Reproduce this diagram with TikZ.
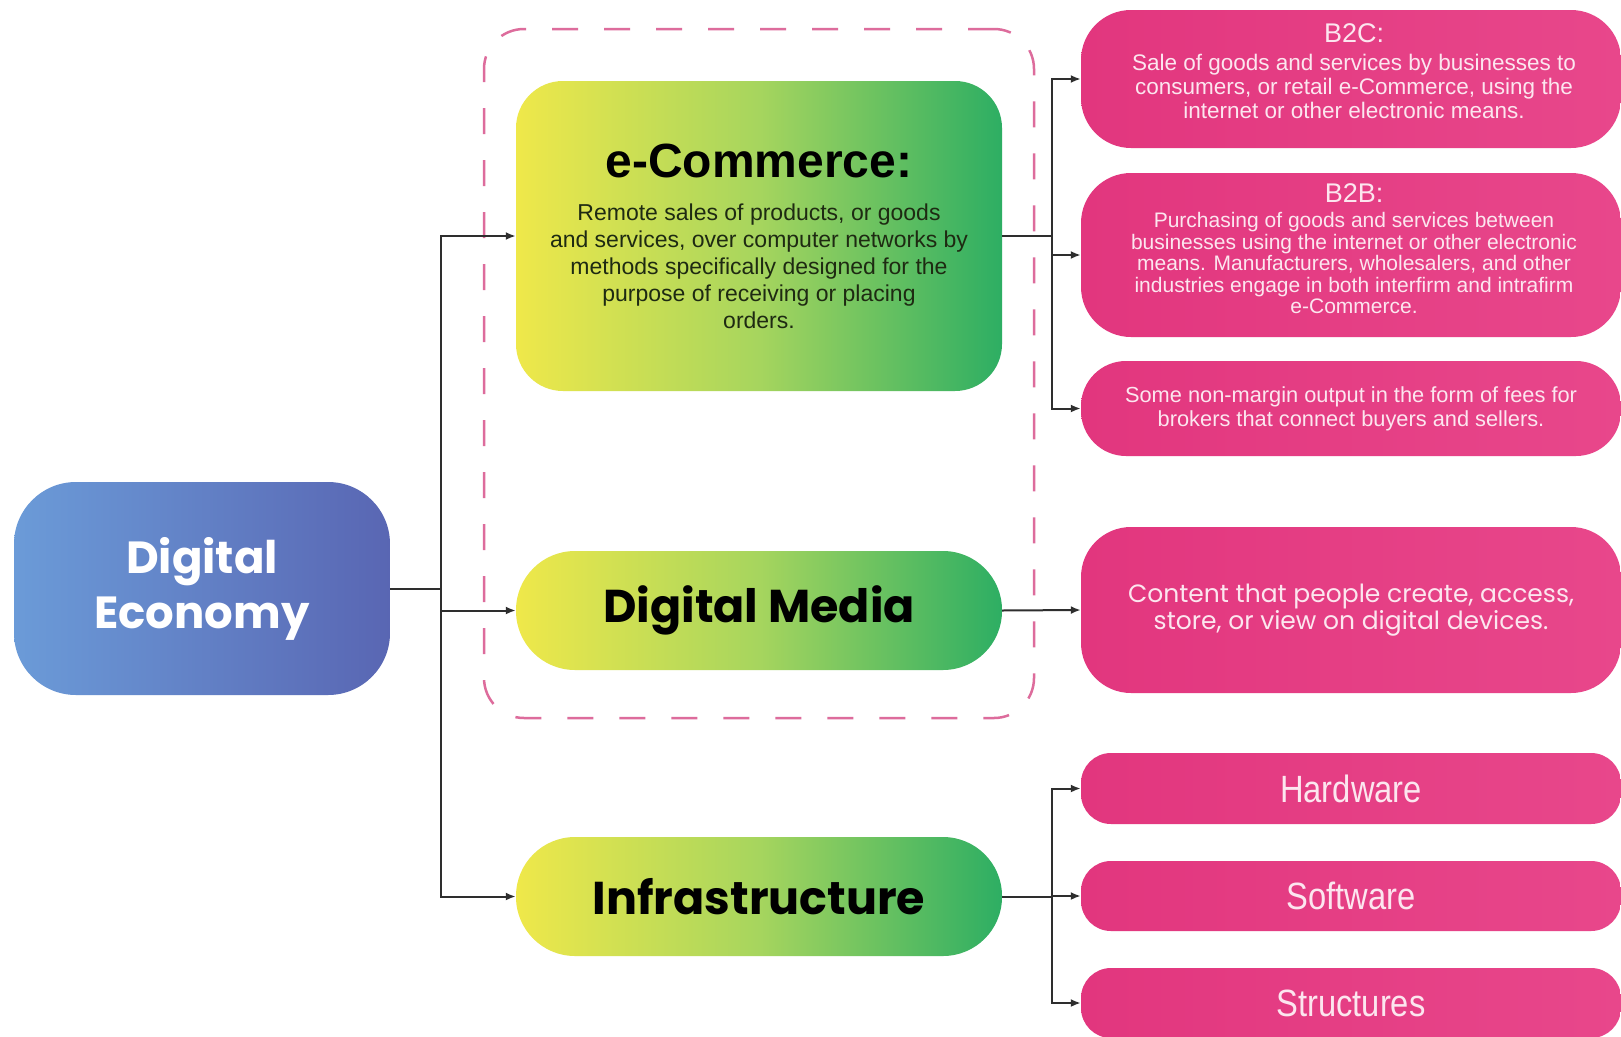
\documentclass[tikz,border=0pt]{standalone}
\usepackage{fontspec}
\setmainfont{Liberation Sans}
\newfontfamily\hfont{Poppins}
\newfontfamily\cfont{Liberation Sans}[FakeStretch=0.86]
\usetikzlibrary{arrows.meta}
\definecolor{blueL}{HTML}{6B9BD8}
\definecolor{blueR}{HTML}{5966B3}
\definecolor{ygL}{HTML}{EFE84A}
\definecolor{ygM}{HTML}{A6D55E}
\definecolor{ygR}{HTML}{2DAE63}
\definecolor{pinkL}{HTML}{E2367E}
\definecolor{pinkR}{HTML}{E8478B}
\definecolor{pinkTxt}{HTML}{FCE6EF}
\definecolor{dashPink}{HTML}{DD6C9C}
\definecolor{lineC}{HTML}{2E2E2E}
\definecolor{bodyTxt}{HTML}{1E2A12}
\begin{document}
\begin{tikzpicture}[x=1pt,y=-1pt,
  conn/.style={line width=2pt, draw=lineC},
  arr/.style={conn, -{Latex[length=10pt,width=8pt]}},
  bluebox/.style={draw=none, rounded corners=62pt, left color=blueL, right color=blueR,
     minimum width=376pt, minimum height=213pt, inner sep=0pt, text=white, align=center,
     font=\hfont\bfseries\fontsize{45}{55}\selectfont},
  ygbox/.style={draw=none, left color=ygL, right color=ygR, middle color=ygM,
     minimum width=486pt, inner sep=0pt, align=center, text=black},
  pinkbox/.style={draw=none, left color=pinkL, right color=pinkR, minimum width=540pt,
     inner sep=0pt, align=center, text=pinkTxt},
  ptext/.style={inner sep=0pt, align=center, text=pinkTxt},
  grpbox/.style={draw=dashPink, line width=2.5pt, dash pattern=on 26pt off 26pt,
     rounded corners=40pt, fill=none}
]
\path[use as bounding box] (0,0) rectangle (1621,1036);
\clip (0,0) rectangle (1621,1036);
\fill[white] (0,0) rectangle (1621,1036);

% dashed group
\node[grpbox, minimum width=550pt, minimum height=689pt] (grp) at (759,373.5) {};

% root
\node[bluebox] (de) at (202,588.5) {Digital\\Economy};

% middle column
\node[ygbox, minimum height=310pt, rounded corners=47pt,
      font=\fontsize{23}{27}\selectfont] (ec) at (759,236)
  {{\color{black}\bfseries\fontsize{48}{50}\selectfont e-Commerce:}\\[16pt]
   {\color{bodyTxt}Remote sales of products, or goods}\\
   {\color{bodyTxt}and services, over computer networks by}\\
   {\color{bodyTxt}methods specifically designed for the}\\
   {\color{bodyTxt}purpose of receiving or placing}\\
   {\color{bodyTxt}orders.}};
\node[ygbox, minimum height=119pt, rounded corners=59pt,
      font=\hfont\bfseries\fontsize{46}{50}\selectfont] (dm) at (759,610.5) {Digital Media};
\node[ygbox, minimum height=119pt, rounded corners=59pt,
      font=\hfont\bfseries\fontsize{46}{50}\selectfont] (inf) at (759,896.5) {Infrastructure};

% right column
\node[pinkbox, minimum height=138pt, rounded corners=50pt] (b2c) at (1351,79) {};
\node[ptext, font=\fontsize{22.5}{24}\selectfont] (b2ct) at (1354,71)
  {{\fontsize{27}{28}\selectfont B2C:}\\[4pt]
   Sale of goods and services by businesses to\\
   consumers, or retail e-Commerce, using the\\
   internet or other electronic means.};

\node[pinkbox, minimum height=164pt, rounded corners=50pt] (b2b) at (1351,255) {};
\node[ptext, font=\fontsize{21}{21.5}\selectfont] (b2bt) at (1354,249)
  {{\fontsize{27}{28}\selectfont B2B:}\\[3.5pt]
   Purchasing of goods and services between\\
   businesses using the internet or other electronic\\
   means. Manufacturers, wholesalers, and other\\
   industries engage in both interfirm and intrafirm\\
   e-Commerce.};

\node[pinkbox, minimum height=95pt, rounded corners=45pt,
      font=\fontsize{21.8}{23.8}\selectfont] (nm) at (1351,408.5)
  {Some non-margin output in the form of fees for\\
   brokers that connect buyers and sellers.};

\node[pinkbox, minimum height=166pt, rounded corners=50pt,
      font=\hfont\fontsize{25}{27}\selectfont] (ct) at (1351,610)
  {Content that people create, access,\\
   store, or view on digital devices.};

\node[pinkbox, minimum height=71pt, rounded corners=30pt,
      font=\cfont\fontsize{38}{40}\selectfont] (hw) at (1351,788.5) {Hardware};
\node[pinkbox, minimum height=70pt, rounded corners=30pt,
      font=\cfont\fontsize{38}{40}\selectfont] (sw) at (1351,896) {Software};
\node[pinkbox, minimum height=70pt, rounded corners=30pt,
      font=\cfont\fontsize{38}{40}\selectfont] (st) at (1351,1003) {Structures};

% branch coordinates
\coordinate (tr) at (441,588);
\coordinate (br1) at (1052,236);
\coordinate (br2) at (1052,896);

% connectors from root
\draw[conn] (de.east) -- (de.east -| tr);
\draw[arr] (de.east -| tr) |- (ec.west);
\draw[arr] (de.east -| tr) |- (inf.west);
\draw[arr] (tr |- dm.west) -- (dm.west);

% e-Commerce branches
\draw[conn] (ec.east) -- (ec.east -| br1);
\draw[arr] (ec.east -| br1) |- (b2c.west);
\draw[arr] (ec.east -| br1) |- (nm.west);
\draw[arr] (br1 |- b2b.west) -- (b2b.west);

% digital media
\draw[arr] (dm.east) -- (ct.west);

% infrastructure branches
\draw[conn] (inf.east) -- (inf.east -| br2);
\draw[arr] (inf.east -| br2) |- (hw.west);
\draw[arr] (inf.east -| br2) |- (st.west);
\draw[arr] (br2 |- sw.west) -- (sw.west);
\end{tikzpicture}
\end{document}
